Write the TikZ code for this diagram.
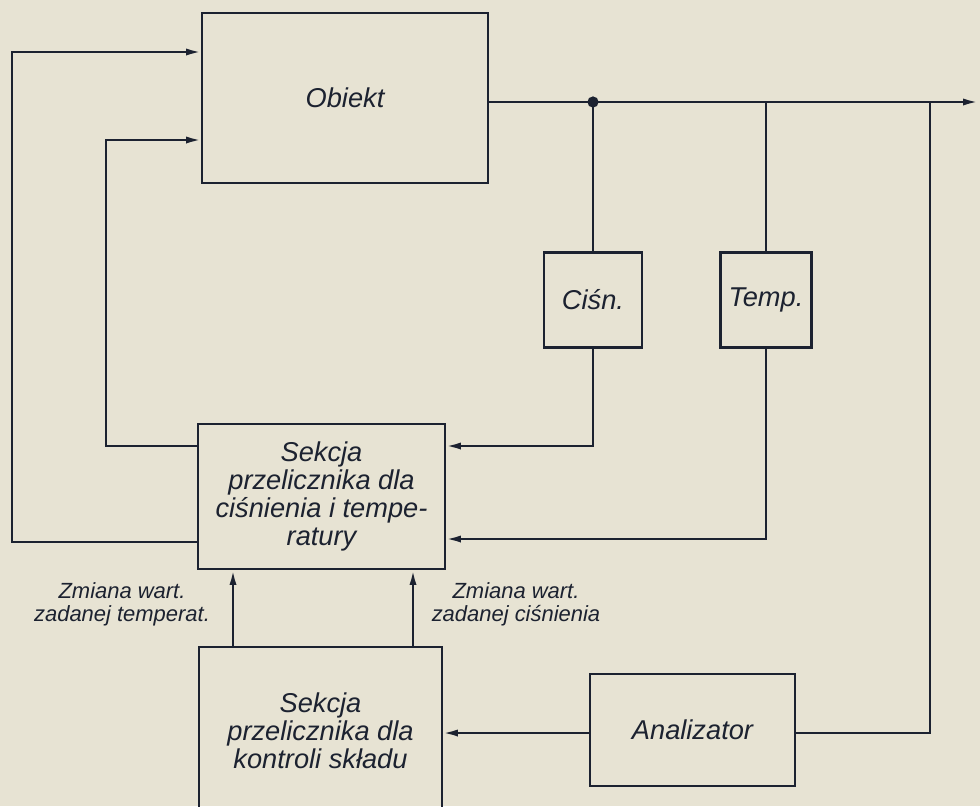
\documentclass[tikz,border=0pt]{standalone}
\usepackage{fontspec}
\setmainfont{Liberation Sans}
\usetikzlibrary{arrows.meta}
\definecolor{paper}{HTML}{E7E3D3}
\definecolor{ink}{HTML}{1C2230}

\begin{document}
\begin{tikzpicture}[x=0.02cm, y=-0.02cm,
  every path/.style={ink, line width=1.5pt},
  blok/.style={draw=ink, line width=1.5pt, inner sep=0pt, outer sep=0pt, align=center,
    text=ink, font=\itshape\fontsize{15.5}{16}\selectfont},
  opis/.style={align=center, text=ink, inner sep=0pt,
    font=\itshape\fontsize{12.5}{13}\selectfont},
  >={Latex[length=9pt,width=4pt]}]
  % page
  \fill[paper] (0,0) rectangle (980,806);
  \useasboundingbox (0,0) rectangle (980,806);
  % blocks
  \node[blok, minimum width=5.72cm, minimum height=3.4cm] (obiekt) at (345,98) {Obiekt};
  \node[blok, minimum width=1.96cm, minimum height=1.9cm] (cisn) at (593,300) {Ciśn.};
  \node[blok, minimum width=1.82cm, minimum height=1.9cm] (temp) at (766,300) {Temp.};
  \node[blok, minimum width=4.94cm, minimum height=2.9cm] (sekcja_pt) at (321.5,496.5)
    {Sekcja\\ przelicznika dla\\ ciśnienia i tempe-\\ ratury};
  \node[blok, minimum width=4.86cm, minimum height=3.36cm] (sekcja_sk) at (320.5,731)
    {Sekcja\\ przelicznika dla\\ kontroli składu};
  \node[blok, minimum width=4.1cm, minimum height=2.24cm] (analizator) at (692.5,730) {Analizator};
  % labels
  \node[opis] (zm_temp) at (122,604) {Zmiana wart.\\ zadanej temperat.};
  \node[opis] (zm_cisn) at (516,604) {Zmiana wart.\\ zadanej ciśnienia};
  % bend points
  \coordinate (j1) at (593,102);
  \coordinate (j2) at (766,102);
  \coordinate (j3) at (930,102);
  \coordinate (wyj) at (979,102);
  \coordinate (p1) at (12,542);
  \coordinate (p2) at (12,52);
  \coordinate (p3) at (106,446);
  \coordinate (p4) at (106,140);
  \coordinate (p5) at (593,446);
  \coordinate (p6) at (766,539);
  \coordinate (p7) at (930,733);
  \coordinate (s1) at (233,0);
  \coordinate (s2) at (413,0);
  % object output and measurements
  \draw[->] (obiekt.east |- j1) -- (wyj);
  \fill[ink] (j1) circle (3.2pt);
  \draw (j1) -- (cisn.north);
  \draw (j2) -- (temp.north);
  \draw[->] (cisn.south) |- (sekcja_pt.east |- p5);
  \draw[->] (temp.south) |- (sekcja_pt.east |- p6);
  % outputs to object
  \draw[->] (sekcja_pt.west |- p1) -- (p1) -- (p2) -- (obiekt.west |- p2);
  \draw[->] (sekcja_pt.west |- p3) -- (p3) -- (p4) -- (obiekt.west |- p4);
  % set point changes
  \draw[->] (sekcja_sk.north -| s1) -- (sekcja_pt.south -| s1);
  \draw[->] (sekcja_sk.north -| s2) -- (sekcja_pt.south -| s2);
  % analyser loop
  \draw (j3) -- (p7) -- (analizator.east |- p7);
  \draw[->] (analizator.west |- p7) -- (sekcja_sk.east |- p7);
\end{tikzpicture}
\end{document}
